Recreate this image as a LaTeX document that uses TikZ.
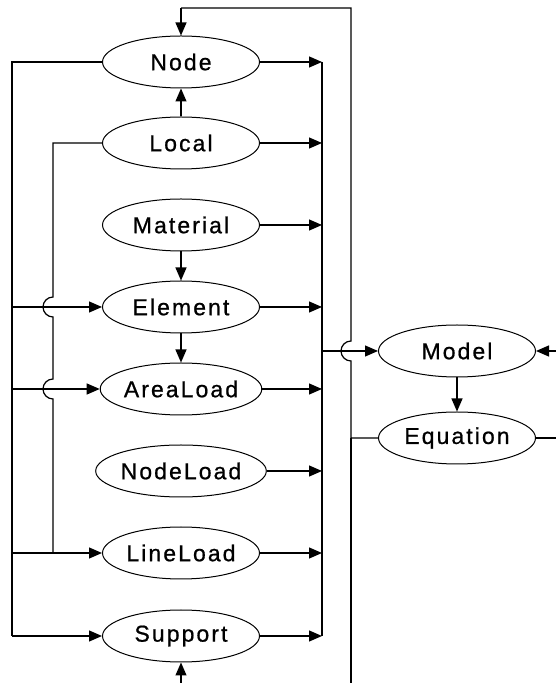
\documentclass[tikz,border=0pt]{standalone}
\usepackage{fontspec}
\setmainfont{Liberation Sans}[LetterSpace=9,FakeBold=0.8]
\usetikzlibrary{shapes.geometric,arrows.meta}
\begin{document}
\begin{tikzpicture}[x=1pt,y=1pt,
  cls/.style={ellipse,draw,line width=1pt,minimum width=157pt,minimum height=52pt,
    inner sep=0pt,font=\fontsize{23}{27}\selectfont},
  link/.style={line width=1.2pt},
  arr/.style={link,-{Triangle[length=13pt,width=11pt]}}]
\useasboundingbox (0,0) rectangle (556,683);

% class nodes
\node[cls] (nd)  at (181,621) {Node};
\node[cls] (lc)  at (181,540) {Local};
\node[cls] (mt)  at (181,458) {Material};
\node[cls] (el)  at (181,376) {Element};
\node[cls] (al)  at (181,294) {AreaLoad};
\node[cls] (nl)  at (181,212) {NodeLoad};
\node[cls] (ll)  at (181,130) {LineLoad};
\node[cls] (sp)  at (181,47)  {Support};
\node[cls] (md)  at (457,332) {Model};
\node[cls] (eq)  at (457,245) {Equation};

% guide lines and free ends
\coordinate (trunk) at (12,0);
\coordinate (loc)   at (53,0);
\coordinate (bus)   at (322,0);
\coordinate (ret)   at (351,0);
\coordinate (top)   at (181,675);
\coordinate (spin)  at (181,0);
\coordinate (mdin)  at (556,332);
\coordinate (eqout) at (556,245);

% vertical dependencies
\draw[arr] (lc.north) -- (nd.south);
\draw[arr] (mt.south) -- (el.north);
\draw[arr] (el.south) -- (al.north);
\draw[arr] (md.south) -- (eq.north);

% Node feeds the left trunk
\draw[link] (nd.west) -- (nd.west -| trunk) -- (sp.west -| trunk);
\draw[arr] (sp.west -| trunk) -- (sp.west);
\draw[arr] (el.west -| trunk) -- (el.west);
\draw[arr] (al.west -| trunk) -- (al.west);
\draw[arr] (ll.west -| trunk) -- (ll.west);

% Local line hopping over the Element and AreaLoad branches
\draw[link] (lc.west) -- (lc.west -| loc) -- (53,386)
  arc[start angle=90,end angle=270,radius=10] -- (53,304)
  arc[start angle=90,end angle=270,radius=10] -- (ll.west -| loc);

% everything collects on the right bus
\foreach \n in {nd,lc,mt,el,al,nl,ll,sp}
  \draw[arr] (\n.east) -- (\n.east -| bus);
\draw[link] (nd.east -| bus) -- (sp.east -| bus);
\draw[arr] (md.west -| bus) -- (md.west);

% Equation returns to Node (top) and Support (bottom)
\draw[link] (eq.west) -- (eq.west -| ret) -- (351,322)
  arc[start angle=-90,end angle=-270,radius=10] -- (top -| ret) -- (top);
\draw[arr] (top) -- (nd.north);
\draw[link] (eq.west -| ret) -- (ret);
\draw[arr] (spin) -- (sp.south);

% connections leaving to the right
\draw[arr] (mdin) -- (md.east);
\draw[link] (eq.east) -- (eqout);
\end{tikzpicture}
\end{document}
